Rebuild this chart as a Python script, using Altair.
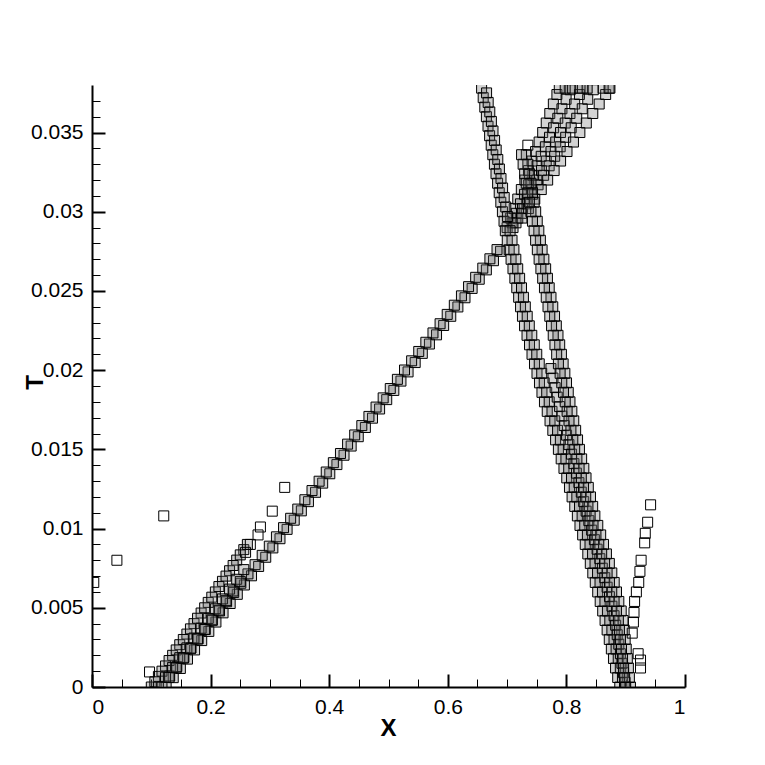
import altair as alt
import pandas as pd

# ---- axis ticks ----
x_major = [0, 0.2, 0.4, 0.6, 0.8, 1]
x_minor = [0.05, 0.1, 0.15, 0.25, 0.3, 0.35, 0.45, 0.5, 0.55, 0.65, 0.7, 0.75, 0.85, 0.9, 0.95]
y_major = [0, 0.005, 0.01, 0.015, 0.02, 0.025, 0.03, 0.035]
y_minor = [0.001, 0.002, 0.003, 0.004, 0.006, 0.007, 0.008, 0.009, 0.011, 0.012, 0.013, 0.014,
           0.016, 0.017, 0.018, 0.019, 0.021, 0.022, 0.023, 0.024, 0.026, 0.027, 0.028, 0.029,
           0.031, 0.032, 0.033, 0.034, 0.036, 0.037]

# ---- right-moving band from x~0.12 (main row) ----
a1_x = [0.125, 0.137, 0.149, 0.161, 0.173, 0.185, 0.197, 0.209, 0.221, 0.233, 0.245, 0.257, 0.269, 0.281,
        0.293, 0.305, 0.317, 0.329, 0.341, 0.353, 0.365, 0.377, 0.389, 0.401, 0.413, 0.425, 0.437, 0.449,
        0.461, 0.473, 0.485, 0.497, 0.509, 0.521, 0.533, 0.545, 0.557, 0.569, 0.581, 0.593, 0.605, 0.617,
        0.629, 0.641, 0.653, 0.665, 0.677, 0.689]
a1_y = [0.0, 0.00059, 0.00117, 0.00176, 0.00234, 0.00293, 0.00351, 0.0041, 0.00468, 0.00527, 0.00585,
        0.00644, 0.00702, 0.00761, 0.00819, 0.00878, 0.00936, 0.00995, 0.01053, 0.01112, 0.0117, 0.01229,
        0.01287, 0.01346, 0.01404, 0.01463, 0.01521, 0.0158, 0.01638, 0.01697, 0.01755, 0.01814, 0.01872,
        0.01931, 0.01989, 0.02048, 0.02106, 0.02165, 0.02223, 0.02282, 0.0234, 0.02399, 0.02457, 0.02516,
        0.02574, 0.02633, 0.02691, 0.0275]
a2_x = [0.131, 0.143, 0.155, 0.167, 0.179, 0.191, 0.203, 0.215, 0.227, 0.239, 0.251, 0.263, 0.275, 0.287,
        0.299, 0.311, 0.323, 0.335, 0.347, 0.359, 0.371, 0.383, 0.395, 0.407, 0.419, 0.431, 0.443, 0.455,
        0.467, 0.479, 0.491, 0.503, 0.515, 0.527, 0.539, 0.551, 0.563, 0.575, 0.587, 0.599, 0.611, 0.623,
        0.635, 0.647, 0.659, 0.671, 0.683]
a2_y = [0.0007, 0.00129, 0.00187, 0.00246, 0.00304, 0.00363, 0.00421, 0.0048, 0.00538, 0.00597, 0.00655,
        0.00714, 0.00772, 0.00831, 0.00889, 0.00948, 0.01006, 0.01065, 0.01123, 0.01182, 0.0124, 0.01299,
        0.01357, 0.01416, 0.01474, 0.01533, 0.01591, 0.0165, 0.01708, 0.01767, 0.01825, 0.01884, 0.01942,
        0.02001, 0.02059, 0.02118, 0.02176, 0.02235, 0.02293, 0.02352, 0.0241, 0.02469, 0.02527, 0.02586,
        0.02644, 0.02703, 0.02761]

# ---- steeper branch from x~0.10 ----
l1_x = [0.100, 0.112, 0.124, 0.136, 0.148, 0.160, 0.172, 0.184, 0.196, 0.208, 0.220, 0.232, 0.244, 0.256]
l1_y = [0.0, 0.00067, 0.00133, 0.002, 0.00267, 0.00334, 0.004, 0.00467, 0.00534, 0.006, 0.00667, 0.00734,
        0.00801, 0.00867]
l2_x = [0.106, 0.118, 0.130, 0.142, 0.154, 0.166, 0.178, 0.190, 0.202, 0.214, 0.226, 0.238, 0.250, 0.262]
l2_y = [0.00033, 0.001, 0.00167, 0.00234, 0.003, 0.00367, 0.00434, 0.005, 0.00567, 0.00634, 0.007, 0.00767,
        0.00834, 0.009]
m1_x = [0.112, 0.124, 0.136, 0.148, 0.160, 0.172, 0.184, 0.196, 0.208, 0.220, 0.232, 0.244, 0.256]
m1_y = [0.0, 0.00062, 0.00124, 0.00185, 0.00247, 0.00309, 0.00371, 0.00433, 0.00494, 0.00556, 0.00618,
        0.0068, 0.00741]
m2_x = [0.118, 0.130, 0.142, 0.154, 0.166, 0.178, 0.190, 0.202, 0.214, 0.226, 0.238, 0.250]
m2_y = [0.0, 0.00061, 0.00121, 0.00182, 0.00242, 0.00303, 0.00364, 0.00424, 0.00485, 0.00545, 0.00606,
        0.00667]

# ---- lone squares ----
lone_x = [0.259, 0.267, 0.280, 0.284, 0.304, 0.325, 0.003, 0.042, 0.121, 0.097, 0.735,
          0.942, 0.937, 0.933, 0.932, 0.926, 0.924, 0.922, 0.918, 0.915, 0.914, 0.913, 0.911, 0.921, 0.925, 0.925]
lone_y = [0.0085, 0.0090, 0.0096, 0.0101, 0.0111, 0.0126, 0.0066, 0.0080, 0.0108, 0.00095, 0.0342,
          0.0115, 0.0104, 0.0097, 0.0091, 0.0080, 0.0073, 0.0066, 0.0060, 0.0054, 0.0047, 0.0041, 0.0034,
          0.0021, 0.0017, 0.0012]

# ---- fan above the crossing ----
b1_x = [0.700, 0.706, 0.712, 0.718, 0.724, 0.730, 0.736, 0.742, 0.748, 0.754, 0.760, 0.766, 0.772, 0.778,
        0.784, 0.788]
b1_y = [0.0290, 0.0296, 0.0302, 0.0308, 0.0314, 0.0320, 0.0326, 0.0332, 0.0338, 0.0344, 0.0350, 0.0356,
        0.0362, 0.0368, 0.0374, 0.0378]
b2_x = [0.7085, 0.7155, 0.7225, 0.7295, 0.7365, 0.7435, 0.7505, 0.7575, 0.7645, 0.7715, 0.7785, 0.7855,
        0.7925, 0.7995, 0.8065]
b2_y = [0.0293, 0.0299, 0.0305, 0.0311, 0.0317, 0.0323, 0.0329, 0.0335, 0.0341, 0.0347, 0.0353, 0.0359,
        0.0365, 0.0371, 0.0377]
b3_x = [0.710, 0.718, 0.726, 0.734, 0.742, 0.750, 0.758, 0.766, 0.774, 0.782, 0.790, 0.798, 0.806, 0.814,
        0.822, 0.827]
b3_y = [0.0290, 0.0296, 0.0302, 0.0308, 0.0314, 0.0320, 0.0326, 0.0332, 0.0338, 0.0344, 0.0350, 0.0356,
        0.0362, 0.0368, 0.0374, 0.0378]
b4_x = [0.715, 0.7243, 0.7336, 0.7429, 0.7522, 0.7616, 0.7709, 0.7802, 0.7895, 0.7988, 0.8081, 0.8174,
        0.8267, 0.836, 0.8453]
b4_y = [0.0293, 0.0299, 0.0305, 0.0311, 0.0317, 0.0323, 0.0329, 0.0335, 0.0341, 0.0347, 0.0353, 0.0359,
        0.0365, 0.0371, 0.0377]
b5_x = [0.725, 0.7359, 0.7467, 0.7576, 0.7684, 0.7793, 0.7902, 0.801, 0.8119, 0.8227, 0.8336, 0.8445,
        0.8553, 0.8662, 0.8734]
b5_y = [0.0296, 0.0302, 0.0308, 0.0314, 0.0320, 0.0326, 0.0332, 0.0338, 0.0344, 0.0350, 0.0356, 0.0362,
        0.0368, 0.0374, 0.0378]
top_x = [0.798, 0.810, 0.823, 0.835, 0.862, 0.872]
top_y = [0.0378, 0.0378, 0.0378, 0.0378, 0.0378, 0.0378]

# ---- left-moving band above the crossing ----
d1_x = [0.657, 0.6597, 0.6624, 0.6651, 0.6678, 0.6705, 0.6732, 0.6759, 0.6786, 0.6813, 0.684, 0.6867,
        0.6894, 0.6921, 0.6948]
d1_y = [0.0378, 0.0372, 0.0366, 0.0360, 0.0354, 0.0348, 0.0342, 0.0336, 0.0330, 0.0324, 0.0318, 0.0312,
        0.0306, 0.0300, 0.0294]
d2_x = [0.6654, 0.6681, 0.6708, 0.6735, 0.6762, 0.6789, 0.6816, 0.6843, 0.687, 0.6897, 0.6924, 0.6951,
        0.6978, 0.7005]
d2_y = [0.0375, 0.0369, 0.0363, 0.0357, 0.0351, 0.0345, 0.0339, 0.0333, 0.0327, 0.0321, 0.0315, 0.0309,
        0.0303, 0.0297]

# ---- left-moving bands below the crossing ----
low_y = [0.0, 0.0006, 0.0012, 0.0018, 0.0024, 0.0030, 0.0036, 0.0042, 0.0048, 0.0054, 0.0060, 0.0066,
         0.0072, 0.0078, 0.0084, 0.0090, 0.0096, 0.0102, 0.0108, 0.0114, 0.0120, 0.0126, 0.0132, 0.0138,
         0.0144, 0.0150, 0.0156, 0.0162, 0.0168, 0.0174, 0.0180, 0.0186, 0.0192, 0.0198, 0.0204, 0.0210,
         0.0216, 0.0222, 0.0228, 0.0234, 0.0240, 0.0246, 0.0252, 0.0258, 0.0264, 0.0270, 0.0276, 0.0282,
         0.0288]
right_y = low_y + [0.0294, 0.0300, 0.0306, 0.0312, 0.0318, 0.0324, 0.0330, 0.0336]
mid_y = [0.0003, 0.0009, 0.0015, 0.0021, 0.0027, 0.0033, 0.0039, 0.0045, 0.0051, 0.0057, 0.0063, 0.0069,
         0.0075, 0.0081, 0.0087, 0.0093, 0.0099, 0.0105, 0.0111, 0.0117, 0.0123, 0.0129, 0.0135, 0.0141,
         0.0147, 0.0153, 0.0159, 0.0165, 0.0171, 0.0177, 0.0183, 0.0189, 0.0195, 0.0201]
e1_x = [0.890, 0.8865, 0.8829, 0.8794, 0.8758, 0.8723, 0.8687, 0.8652, 0.8612, 0.857, 0.8528, 0.8487,
        0.8445, 0.8403, 0.8361, 0.8318, 0.8274, 0.8229, 0.8185, 0.8141, 0.8096, 0.8052, 0.8006, 0.7959,
        0.7912, 0.7865, 0.7818, 0.7771, 0.7724, 0.7677, 0.763, 0.7588, 0.7546, 0.7504, 0.7462, 0.742,
        0.7378, 0.7336, 0.7294, 0.7259, 0.7227, 0.7195, 0.7163, 0.7131, 0.7099, 0.7067, 0.7035, 0.7003,
        0.697]
e2_x = [0.898, 0.8945, 0.8909, 0.8874, 0.8838, 0.8803, 0.8767, 0.8732, 0.8692, 0.865, 0.8608, 0.8567,
        0.8525, 0.8483, 0.8441, 0.8398, 0.8354, 0.8309, 0.8265, 0.8221, 0.8176, 0.8132, 0.8086, 0.8039,
        0.7992, 0.7945, 0.7898, 0.7851, 0.7804, 0.7757, 0.771, 0.7668, 0.7626, 0.7584, 0.7542, 0.75,
        0.7458, 0.7416, 0.7374, 0.7339, 0.7307, 0.7275, 0.7243, 0.7211, 0.7179, 0.7147, 0.7115, 0.7083,
        0.705]
c_x = [0.899, 0.8964, 0.8937, 0.8911, 0.8884, 0.8857, 0.8831, 0.8804, 0.8768, 0.8727, 0.8687, 0.8647,
       0.8606, 0.8564, 0.8518, 0.8472, 0.8426, 0.8379, 0.8333, 0.8292, 0.8251, 0.8211, 0.8169, 0.8127,
       0.8085, 0.8043, 0.8003, 0.7964, 0.7924, 0.7885, 0.7845, 0.781, 0.7774, 0.7739]
r1_x = [0.908, 0.9062, 0.9045, 0.9027, 0.9009, 0.8991, 0.8974, 0.8956, 0.8924, 0.8884, 0.8845, 0.8806,
        0.8766, 0.8724, 0.8675, 0.8626, 0.8578, 0.8529, 0.848, 0.8443, 0.8406, 0.8369, 0.8331, 0.8294,
        0.8257, 0.822, 0.8188, 0.8156, 0.8124, 0.8092, 0.806, 0.8031, 0.8002, 0.7974, 0.7945, 0.7916,
        0.7887, 0.7858, 0.783, 0.780, 0.777, 0.774, 0.771, 0.768, 0.765, 0.762, 0.759, 0.7561, 0.7535,
        0.7508, 0.7482, 0.7456, 0.7429, 0.7403, 0.7376, 0.735, 0.7324]
r2_x = [0.900, 0.8982, 0.8965, 0.8947, 0.8929, 0.8911, 0.8894, 0.8876, 0.8844, 0.8804, 0.8765, 0.8726,
        0.8686, 0.8644, 0.8595, 0.8546, 0.8498, 0.8449, 0.840, 0.8363, 0.8326, 0.8289, 0.8251, 0.8214,
        0.8177, 0.814, 0.8108, 0.8076, 0.8044, 0.8012, 0.798, 0.7951, 0.7922, 0.7894, 0.7865, 0.7836,
        0.7807, 0.7778, 0.775, 0.772, 0.769, 0.766, 0.763, 0.760, 0.757, 0.754, 0.751, 0.7481, 0.7455,
        0.7428, 0.7402, 0.7376, 0.7349, 0.7323, 0.7296, 0.727, 0.7244]

band_x = (a1_x + a2_x + l1_x + l2_x + m1_x + m2_x + b1_x + b2_x + b3_x + b4_x + b5_x + top_x
          + d1_x + d2_x + e1_x + e2_x + c_x + r1_x + r2_x)
band_y = (a1_y + a2_y + l1_y + l2_y + m1_y + m2_y + b1_y + b2_y + b3_y + b4_y + b5_y + top_y
          + d1_y + d2_y + low_y + low_y + mid_y + right_y + right_y)
band_df = pd.DataFrame({"x": band_x, "y": band_y})
lone_df = pd.DataFrame({"x": lone_x, "y": lone_y})

W, H = 593, 602
FONT = "Liberation Sans"
xs_scale = alt.Scale(domain=[0, 1], nice=False, zero=False)
ys_scale = alt.Scale(domain=[0, 0.038], nice=False, zero=False)

main = alt.Chart(band_df).mark_point(
    shape="square", filled=True, fill="#606060", fillOpacity=0.28, stroke="black",
    strokeWidth=1, strokeOpacity=1, opacity=1, size=100, clip=True
).encode(
    x=alt.X("x:Q", scale=xs_scale, axis=alt.Axis(
        values=x_major, format="~g", tickSize=0, labelPadding=9, domainWidth=2, domainColor="black",
        labelFont=FONT, labelFontSize=21, labelColor="black", grid=False,
        title="X", titleFont=FONT, titleFontSize=24, titleFontWeight="bold", titleColor="black",
        titleX=296, titleY=41, titleBaseline="middle", titleAlign="center")),
    y=alt.Y("y:Q", scale=ys_scale, axis=alt.Axis(
        values=y_major, format="~g", tickSize=0, labelPadding=9, domainWidth=2, domainColor="black",
        labelFont=FONT, labelFontSize=21, labelColor="black", grid=False,
        title="T", titleFont=FONT, titleFontSize=24, titleFontWeight="bold", titleColor="black",
        titleX=-57, titleY=297, titleAngle=-90, titleBaseline="middle", titleAlign="center")),
)

lone = alt.Chart(lone_df).mark_point(
    shape="square", filled=False, size=100, color="black", strokeWidth=1, opacity=1, clip=True
).encode(
    x=alt.X("x:Q", scale=xs_scale, axis=None),
    y=alt.Y("y:Q", scale=ys_scale, axis=None),
)

major = alt.Chart(lone_df).mark_point(opacity=0, size=1).encode(
    x=alt.X("x:Q", scale=xs_scale, axis=alt.Axis(
        orient="top", offset=-H, values=x_major, tickSize=13, tickWidth=2, tickColor="black",
        labels=False, domain=False, grid=False, title="")),
    y=alt.Y("y:Q", scale=ys_scale, axis=alt.Axis(
        orient="right", offset=-W, values=y_major, tickSize=13, tickWidth=2, tickColor="black",
        labels=False, domain=False, grid=False, title="")),
)

minor = alt.Chart(lone_df).mark_point(opacity=0, size=1).encode(
    x=alt.X("x:Q", scale=xs_scale, axis=alt.Axis(
        orient="top", offset=-H, values=x_minor, tickSize=8, tickWidth=1, tickColor="black",
        labels=False, domain=False, grid=False, title="")),
    y=alt.Y("y:Q", scale=ys_scale, axis=alt.Axis(
        orient="right", offset=-W, values=y_minor, tickSize=8, tickWidth=1, tickColor="black",
        labels=False, domain=False, grid=False, title="")),
)

chart = alt.layer(main, lone, major, minor).resolve_scale(
    x="independent", y="independent"
).resolve_axis(
    x="independent", y="independent"
).properties(
    width=W, height=H,
    autosize=alt.AutoSizeParams(type="none"),
    padding={"left": 84, "top": 77, "right": 60, "bottom": 70},
    background="white",
).configure_view(strokeWidth=0)

chart.save("out.html", embed_options={"renderer": "svg", "actions": False})
